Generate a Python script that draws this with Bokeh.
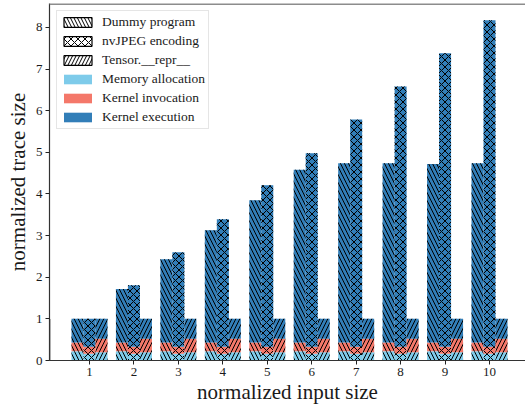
from bokeh.plotting import figure
from bokeh.models import (ColumnDataSource, Legend, LegendItem, Span, FixedTicker)
from bokeh.transform import dodge
from bokeh.embed import file_html
from bokeh.resources import INLINE

# ---- data ----
input_size = [1, 2, 3, 4, 5, 6, 7, 8, 9, 10]

dummy_mem  = [0.22, 0.22, 0.22, 0.22, 0.22, 0.22, 0.22, 0.22, 0.22, 0.22]
dummy_inv  = [0.21, 0.21, 0.21, 0.21, 0.21, 0.21, 0.21, 0.21, 0.21, 0.21]
dummy_exec = [0.57, 1.29, 2.00, 2.70, 3.42, 4.15, 4.31, 4.31, 4.29, 4.31]

nvjpeg_mem  = [0.16, 0.16, 0.16, 0.16, 0.16, 0.16, 0.16, 0.16, 0.16, 0.16]
nvjpeg_inv  = [0.17, 0.17, 0.17, 0.17, 0.17, 0.17, 0.17, 0.17, 0.17, 0.17]
nvjpeg_exec = [0.67, 1.48, 2.27, 3.06, 3.88, 4.65, 5.46, 6.25, 7.05, 7.84]

tensor_mem  = [0.20, 0.20, 0.20, 0.20, 0.20, 0.20, 0.20, 0.20, 0.20, 0.20]
tensor_inv  = [0.32, 0.32, 0.32, 0.32, 0.32, 0.32, 0.32, 0.32, 0.32, 0.32]
tensor_exec = [0.48, 0.48, 0.48, 0.48, 0.48, 0.48, 0.48, 0.48, 0.48, 0.48]

programs = ["Dummy program", "nvJPEG encoding", "Tensor.__repr__"]
components = ["Memory allocation", "Kernel invocation", "Kernel execution"]
y_ticks = [0, 1, 2, 3, 4, 5, 6, 7, 8]
x_label = "normalized input size"
y_label = "normalized trace size"

# ---- style ----
FONT = "Liberation Serif"
COLORS = ["#7ecbea", "#f4786a", "#327eb8"]
HATCHES = ["\\", "x", "/"]
HSCALE = [8, 7, 8]
OFFSETS = [-0.27, 0.0, 0.27]
BAR_W = 0.27
Y_END = 8.575

p = figure(width=525, height=406, x_range=(0.1, 10.81), y_range=(0, Y_END),
           output_backend="svg", toolbar_location=None,
           min_border_left=49, min_border_right=0, min_border_top=3,
           min_border_bottom=45)

p.xgrid.grid_line_color = None
p.ygrid.grid_line_color = None
p.outline_line_color = None

series = [
    (dummy_mem, dummy_inv, dummy_exec),
    (nvjpeg_mem, nvjpeg_inv, nvjpeg_exec),
    (tensor_mem, tensor_inv, tensor_exec),
]

for k, (mem, inv, exe) in enumerate(series):
    src = ColumnDataSource(dict(x=input_size, mem=mem, inv=inv, exe=exe))
    p.vbar_stack(["mem", "inv", "exe"], x=dodge("x", OFFSETS[k], range=p.x_range),
                 width=BAR_W, source=src, color=COLORS, line_color=None,
                 hatch_pattern=HATCHES[k], hatch_color="black",
                 hatch_scale=HSCALE[k], hatch_weight=1, hatch_alpha=1.0)

# legend proxies (placed outside the visible x range)
items = []
for k, name in enumerate(programs):
    r = p.vbar(x=[-10], top=[1], width=0.1, fill_color="white", line_color="black",
               line_width=1.2, hatch_pattern=HATCHES[k], hatch_color="black",
               hatch_scale=7, hatch_weight=1)
    items.append(LegendItem(label=name, renderers=[r]))
for k, name in enumerate(components):
    r = p.vbar(x=[-10], top=[1], width=0.1, fill_color=COLORS[k], line_color=None)
    items.append(LegendItem(label=name, renderers=[r]))

legend = Legend(items=items, location="top_left", margin=7, padding=3,
                spacing=3, label_height=16, glyph_height=12, glyph_width=35,
                label_standoff=7, label_text_font=FONT,
                label_text_font_size="13.5px", label_text_color="#1a1a1a",
                border_line_color="#cccccc", border_line_width=1,
                background_fill_color="white", background_fill_alpha=0.85)
p.add_layout(legend, "center")

top_line = Span(location=Y_END - 0.015, dimension="width", line_color="#8c8c8c",
                line_width=2)
p.add_layout(top_line)

# axes
p.xaxis.ticker = FixedTicker(ticks=input_size)
p.yaxis.ticker = FixedTicker(ticks=y_ticks)
for ax in (p.xaxis[0], p.yaxis[0]):
    ax.major_label_text_font = FONT
    ax.major_label_text_font_size = "13px"
    ax.major_label_text_color = "#1a1a1a"
    ax.axis_label_text_font = FONT
    ax.axis_label_text_font_size = "21px"
    ax.axis_label_text_font_style = "normal"
    ax.axis_label_text_color = "#1a1a1a"
    ax.major_tick_in = 0
    ax.major_tick_out = 4
    ax.minor_tick_line_color = None
    ax.major_tick_line_color = "#222222"
    ax.axis_line_color = "#333333"
    ax.axis_line_width = 1.2
    ax.major_label_standoff = 3
    ax.axis_label_standoff = 1

p.xaxis.axis_label = x_label
p.yaxis.axis_label = y_label
p.yaxis.axis_label_standoff = 3

open("out.html", "w").write(file_html(p, INLINE))
